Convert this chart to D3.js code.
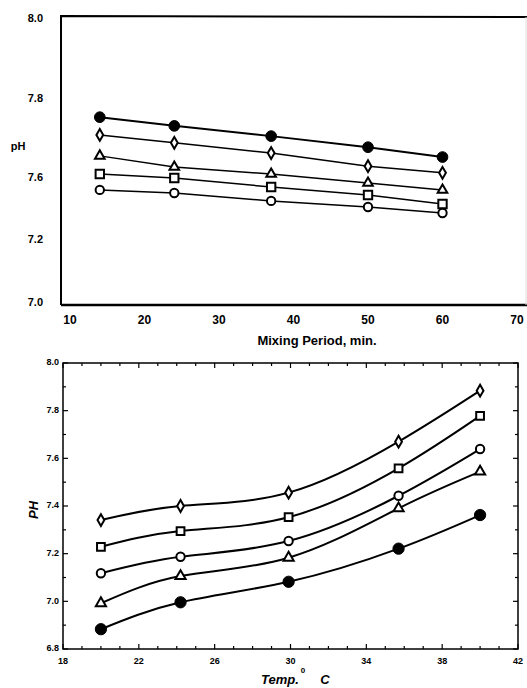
<!DOCTYPE html>
<html>
<head>
<meta charset="utf-8">
<script src="https://cdn.jsdelivr.net/npm/d3@7"></script>
<style>
  body { margin: 0; background: #fff; }
  svg { display: block; font-family: "Liberation Sans", Arial, sans-serif; }
</style>
</head>
<body>
<svg id="chart" width="527" height="688"></svg>
<script>

// ---- top panel: pH vs mixing period
const mixTimes = [14, 24, 37, 50, 60];
const mixSeries = [
  { symbol: "filled",   values: [7.754, 7.732, 7.706, 7.678, 7.653] },
  { symbol: "diamond",  values: [7.709, 7.689, 7.663, 7.630, 7.613] },
  { symbol: "triangle", values: [7.656, 7.628, 7.610, 7.568, 7.523] },
  { symbol: "square",   values: [7.610, 7.600, 7.542, 7.490, 7.432] },
  { symbol: "circle",   values: [7.523, 7.503, 7.452, 7.413, 7.374] }
];
const mixXTicks = [10, 20, 30, 40, 50, 60, 70];
const mixYTicks = [7.0, 7.2, 7.6, 7.8, 8.0];

// ---- bottom panel: pH vs temperature
const temps = [20, 24.2, 29.9, 35.7, 40];
const tempSeries = [
  { symbol: "diamond",  values: [7.341, 7.400, 7.456, 7.670, 7.884] },
  { symbol: "square",   values: [7.229, 7.295, 7.353, 7.558, 7.778] },
  { symbol: "circle",   values: [7.118, 7.187, 7.253, 7.443, 7.639] },
  { symbol: "triangle", values: [6.992, 7.106, 7.183, 7.390, 7.544] },
  { symbol: "filled",   values: [6.883, 6.996, 7.082, 7.221, 7.362] }
];
const tempXTicks = [18, 22, 26, 30, 34, 38, 42];
const tempYTicks = [6.8, 7.0, 7.2, 7.4, 7.6, 7.8, 8.0];

const svg = d3.select("#chart");

const symbolType = {
  filled: d3.symbolCircle,
  circle: d3.symbolCircle,
  diamond: d3.symbolDiamond,
  triangle: d3.symbolTriangle,
  square: d3.symbolSquare
};

const drawMarkers = (g, s, x, y, xs, sizes) => {
  g.append("g")
    .selectAll("path")
    .data(s.values)
    .join("path")
      .attr("transform", (d, i) => `translate(${x(xs[i])},${y(d)})`)
      .attr("d", d3.symbol().type(symbolType[s.symbol]).size(sizes[s.symbol]))
      .attr("fill", s.symbol === "filled" ? "#000" : "#fff")
      .attr("stroke", "#000")
      .attr("stroke-width", s.symbol === "filled" ? 1 : 2);
};


// ================= top panel =================
const topPanel = svg.append("g");

// the scanned axis is not evenly spaced, so the scale follows the labels
const x1 = d3.scaleLinear().domain([10, 70]).range([70, 517]);
const y1 = d3.scaleLinear().domain([7.0, 7.2, 7.6, 7.8, 8.0]).range([303, 240, 178, 99, 19]);

topPanel.append("path")
  .attr("d", "M61,305 L61,16 L527,17")
  .attr("fill", "none")
  .attr("stroke", "#000")
  .attr("stroke-width", 2);
topPanel.append("line")
  .attr("x1", 61).attr("x2", 527)
  .attr("y1", 305).attr("y2", 305)
  .attr("stroke", "#000")
  .attr("stroke-width", 2.5);
topPanel.append("line")
  .attr("x1", 526).attr("x2", 526)
  .attr("y1", 17).attr("y2", 305)
  .attr("stroke", "#ddd")
  .attr("stroke-width", 1);

topPanel.append("g")
  .attr("font-size", 11)
  .attr("font-weight", "bold")
  .attr("text-anchor", "end")
  .attr("dominant-baseline", "middle")
  .selectAll("text")
  .data(mixYTicks)
  .join("text")
    .attr("x", 43)
    .attr("y", d => y1(d))
    .text(d => d.toFixed(1));

topPanel.append("g")
  .attr("font-size", 12)
  .attr("font-weight", "bold")
  .attr("text-anchor", "middle")
  .selectAll("text")
  .data(mixXTicks)
  .join("text")
    .attr("x", d => x1(d))
    .attr("y", 324)
    .text(d => d);

topPanel.append("text")
  .attr("x", 317)
  .attr("y", 345)
  .attr("text-anchor", "middle")
  .attr("font-size", 13)
  .attr("font-weight", "bold")
  .text("Mixing Period, min.");

topPanel.append("text")
  .attr("x", 18)
  .attr("y", 150)
  .attr("text-anchor", "middle")
  .attr("font-size", 11)
  .attr("font-weight", "bold")
  .text("pH");

const line1 = d3.line()
  .x((d, i) => x1(mixTimes[i]))
  .y(d => y1(d));

const topSizes = { filled: 90, circle: 55, diamond: 40, triangle: 40, square: 70 };
mixSeries.forEach(s => {
  topPanel.append("path")
    .attr("d", line1(s.values))
    .attr("fill", "none")
    .attr("stroke", "#000")
    .attr("stroke-width", s.symbol === "filled" ? 2 : 1.5);
  drawMarkers(topPanel, s, x1, y1, mixTimes, topSizes);
});


// ================= bottom panel =================
const bot = svg.append("g");

const x2 = d3.scaleLinear().domain([18, 42]).range([63, 518]);
const y2 = d3.scaleLinear().domain([6.8, 8.0]).range([649, 363]);

bot.append("rect")
  .attr("x", 63).attr("y", 363)
  .attr("width", 455).attr("height", 286)
  .attr("fill", "none")
  .attr("stroke", "#000")
  .attr("stroke-width", 1.5);

// inward ticks on all four sides
const xMinor = d3.range(18, 42.01, 1);
const yMinor = d3.range(0, 13).map(i => 6.8 + i * 0.1);
const ticks = bot.append("g").attr("stroke", "#000").attr("stroke-width", 1.2);
ticks.selectAll(".tb")
  .data(xMinor)
  .join("line")
    .attr("x1", d => x2(d)).attr("x2", d => x2(d))
    .attr("y1", 649).attr("y2", d => 649 - (tempXTicks.includes(d) ? 5 : 3));
ticks.selectAll(".tt")
  .data(xMinor)
  .join("line")
    .attr("x1", d => x2(d)).attr("x2", d => x2(d))
    .attr("y1", 363).attr("y2", d => 363 + (tempXTicks.includes(d) ? 5 : 3));
ticks.selectAll(".tl")
  .data(yMinor)
  .join("line")
    .attr("y1", d => y2(d)).attr("y2", d => y2(d))
    .attr("x1", 63).attr("x2", (d, i) => 63 + (i % 2 === 0 ? 5 : 3));
ticks.selectAll(".tr")
  .data(yMinor)
  .join("line")
    .attr("y1", d => y2(d)).attr("y2", d => y2(d))
    .attr("x1", 518).attr("x2", (d, i) => 518 - (i % 2 === 0 ? 5 : 3));

bot.append("g")
  .attr("font-size", 9)
  .attr("font-weight", "bold")
  .attr("text-anchor", "end")
  .attr("dominant-baseline", "middle")
  .selectAll("text")
  .data(tempYTicks)
  .join("text")
    .attr("x", 59)
    .attr("y", d => y2(d))
    .text(d => d.toFixed(1));

bot.append("g")
  .attr("font-size", 9)
  .attr("font-weight", "bold")
  .attr("text-anchor", "middle")
  .selectAll("text")
  .data(tempXTicks)
  .join("text")
    .attr("x", d => x2(d))
    .attr("y", 664)
    .text(d => d);

bot.append("text")
  .attr("x", 280)
  .attr("y", 684)
  .attr("text-anchor", "middle")
  .attr("font-size", 13)
  .attr("font-weight", "bold")
  .attr("font-style", "italic")
  .text("Temp.");
bot.append("text")
  .attr("x", 303)
  .attr("y", 673)
  .attr("text-anchor", "middle")
  .attr("font-size", 8)
  .attr("font-weight", "bold")
  .text("0");
bot.append("text")
  .attr("x", 325)
  .attr("y", 684)
  .attr("text-anchor", "middle")
  .attr("font-size", 13)
  .attr("font-weight", "bold")
  .attr("font-style", "italic")
  .text("C");

bot.append("text")
  .attr("transform", "translate(38,510) rotate(-90)")
  .attr("text-anchor", "middle")
  .attr("font-size", 13)
  .attr("font-weight", "bold")
  .attr("font-style", "italic")
  .text("PH");

const line2 = d3.line()
  .x((d, i) => x2(temps[i]))
  .y(d => y2(d))
  .curve(d3.curveNatural);

const botSizes = { filled: 100, circle: 55, diamond: 40, triangle: 45, square: 60 };
tempSeries.forEach(s => {
  bot.append("path")
    .attr("d", line2(s.values))
    .attr("fill", "none")
    .attr("stroke", "#000")
    .attr("stroke-width", 2);
  drawMarkers(bot, s, x2, y2, temps, botSizes);
});

</script>
</body>
</html>
